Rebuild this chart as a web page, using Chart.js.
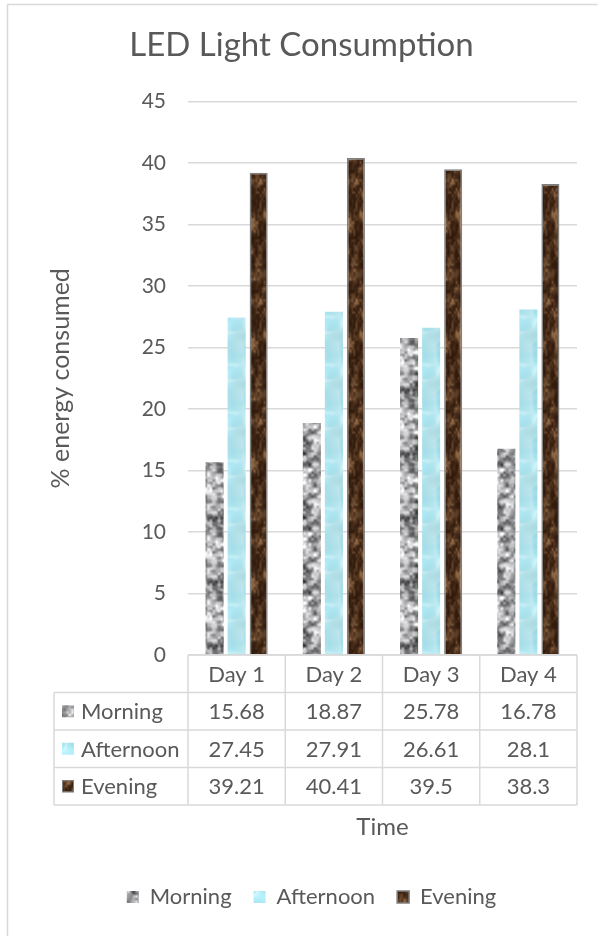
<!DOCTYPE html>
<html>
<head>
<meta charset="utf-8">
<title>LED Light Consumption</title>
<script src="https://cdn.jsdelivr.net/npm/chart.js@4.4.1/dist/chart.umd.min.js"></script>
<style>
  html, body { margin: 0; padding: 0; background: #ffffff; }
  #wrap { width: 600px; height: 936px; }
</style>
</head>
<body>
<div id="wrap"><canvas id="c" width="600" height="936"></canvas></div>
<script>
// ---- data ----
const days = ['Day 1', 'Day 2', 'Day 3', 'Day 4'];
const morning = [15.68, 18.87, 25.78, 16.78];
const afternoon = [27.45, 27.91, 26.61, 28.1];
const evening = [39.21, 40.41, 39.5, 38.3];
const seriesNames = ['Morning', 'Afternoon', 'Evening'];
const yMin = 0, yMax = 45, yStep = 5;

const TEXT = '#595959';
const LINE = '#d9d9d9';
const FONT = 'Lato, "Open Sans", sans-serif';
Chart.defaults.font.family = FONT;
Chart.defaults.color = TEXT;

// ---- texture fills (seamless tiles) ----
function rng(seed) {
  return function () {
    seed |= 0; seed = seed + 0x6D2B79F5 | 0;
    let t = Math.imul(seed ^ seed >>> 15, 1 | seed);
    t = t + Math.imul(t ^ t >>> 7, 61 | t) ^ t;
    return ((t ^ t >>> 14) >>> 0) / 4294967296;
  };
}
function tileNoise(w, h, cx, cy, seed) {
  const r = rng(seed), g = [];
  for (let i = 0; i < cx * cy; i++) g.push(r());
  const G = (i, j) => g[((j % cy + cy) % cy) * cx + ((i % cx + cx) % cx)];
  return (x, y) => {
    const fx = x / w * cx, fy = y / h * cy;
    const x0 = Math.floor(fx), y0 = Math.floor(fy);
    const tx = fx - x0, ty = fy - y0;
    const sx = tx * tx * (3 - 2 * tx), sy = ty * ty * (3 - 2 * ty);
    const a = G(x0, y0), b = G(x0 + 1, y0), c = G(x0, y0 + 1), d = G(x0 + 1, y0 + 1);
    return a + (b - a) * sx + (c - a) * sy + (a - b - c + d) * sx * sy;
  };
}
const clamp = v => Math.max(0, Math.min(255, Math.round(v)));
function makePattern(w, h, fn) {
  const cv = document.createElement('canvas');
  cv.width = w; cv.height = h;
  const cx = cv.getContext('2d');
  const img = cx.createImageData(w, h);
  for (let y = 0; y < h; y++) {
    for (let x = 0; x < w; x++) {
      const [r, g, b] = fn(x, y);
      const k = (y * w + x) * 4;
      img.data[k] = clamp(r); img.data[k + 1] = clamp(g); img.data[k + 2] = clamp(b); img.data[k + 3] = 255;
    }
  }
  cx.putImageData(img, 0, 0);
  return cx.createPattern(cv, 'repeat');
}

// granite: light grey with mottled darker flecks
const gA = tileNoise(64, 64, 12, 12, 11), gB = tileNoise(64, 64, 24, 24, 12), gC = tileNoise(64, 64, 4, 4, 13);
const granite = makePattern(64, 64, (x, y) => {
  const v = 0.5 * gA(x, y) + 0.3 * gB(x, y) + 0.2 * gC(x, y);
  const k = 170 + (v - 0.5) * 320;
  return [k, k, k + 2];
});

// water: pale cyan with soft light and darker patches
const wA = tileNoise(48, 48, 4, 4, 21), wB = tileNoise(48, 48, 8, 8, 22), wC = tileNoise(48, 48, 3, 3, 23);
const water = makePattern(48, 48, (x, y) => {
  const ridge = 1 - Math.abs(2 * wA(x, y) - 1);
  const v = Math.pow(ridge, 4) * 0.4 + (wB(x, y) - 0.5) * 0.25;
  const d = (wC(x, y) - 0.5) * 30;
  const base = [166, 226, 237];
  return base.map(c => c + (255 - c) * v + d);
});

// wood: dark brown grain with lighter blotches
const oA = tileNoise(24, 120, 6, 10, 31), oB = tileNoise(24, 120, 12, 40, 32), oC = tileNoise(24, 120, 3, 4, 33);
const wood = makePattern(24, 120, (x, y) => {
  const v = 0.5 * oA(x, y) + 0.3 * oB(x, y) + 0.2 * oC(x, y);
  const t = Math.max(0, Math.min(1, (v - 0.25) * 1.8));
  const dark = [48, 26, 12], light = [140, 100, 66];
  const s = t * t;
  return dark.map((c, i) => c + (light[i] - c) * s);
});

const fills = [granite, water, wood];

// ---- plugins ----
const frame = {
  id: 'frame',
  afterLayout(chart) {
    // title and legend sit a little right of the plot's centre line
    if (chart.titleBlock) { chart.titleBlock.left += 9; chart.titleBlock.right += 9; }
    if (chart.legend) { chart.legend.left += 19; chart.legend.right += 19; }
  },
  beforeDraw(chart) {
    const { ctx } = chart;
    ctx.save();
    ctx.strokeStyle = LINE;
    ctx.lineWidth = 1.5;
    ctx.beginPath();
    ctx.moveTo(7.5, 936);
    ctx.lineTo(7.5, 4.5);
    ctx.lineTo(597.5, 4.5);
    ctx.stroke();
    ctx.restore();
  }
};

const dataTable = {
  id: 'dataTable',
  afterDraw(chart) {
    const { ctx, chartArea: a, scales: { x } } = chart;
    const rowH = 37.5, top = a.bottom, labelLeft = 54;
    const catW = (a.right - a.left) / days.length;
    const rows = [morning, afternoon, evening];
    ctx.save();
    ctx.strokeStyle = LINE;
    ctx.lineWidth = 1.5;
    ctx.beginPath();
    // horizontal rules
    ctx.moveTo(a.left, top); ctx.lineTo(a.right, top);
    for (let k = 1; k <= 4; k++) {
      ctx.moveTo(labelLeft, top + rowH * k); ctx.lineTo(a.right, top + rowH * k);
    }
    // vertical rules
    for (let i = 0; i <= days.length; i++) {
      const px = a.left + catW * i;
      ctx.moveTo(px, top); ctx.lineTo(px, top + rowH * 4);
    }
    ctx.moveTo(labelLeft, top + rowH); ctx.lineTo(labelLeft, top + rowH * 4);
    ctx.stroke();

    ctx.fillStyle = TEXT;
    ctx.font = '22px ' + FONT;
    ctx.textAlign = 'center';
    ctx.textBaseline = 'middle';
    days.forEach((d, i) => ctx.fillText(d, x.getPixelForValue(i), top + rowH / 2 + 1));
    rows.forEach((vals, r) => {
      const cy = top + rowH * (r + 1.5) + 1;
      vals.forEach((v, i) => {
        ctx.fillStyle = TEXT;
        ctx.fillText(String(v), x.getPixelForValue(i), cy);
      });
      // series key
      const ds = chart.data.datasets[r];
      ctx.fillStyle = ds.backgroundColor;
      ctx.fillRect(62, cy - 7, 12, 12);
      if (ds.borderWidth) {
        ctx.strokeStyle = ds.borderColor;
        ctx.lineWidth = 1;
        ctx.strokeRect(62.5, cy - 6.5, 11, 11);
      }
      ctx.fillStyle = TEXT;
      ctx.textAlign = 'left';
      ctx.fillText(seriesNames[r], 81, cy);
      ctx.textAlign = 'center';
    });
    ctx.restore();
  }
};

// ---- chart ----
new Chart(document.getElementById('c'), {
  type: 'bar',
  data: {
    labels: days,
    datasets: [
      { label: seriesNames[0], data: morning, backgroundColor: fills[0], borderWidth: 0 },
      { label: seriesNames[1], data: afternoon, backgroundColor: fills[1], borderWidth: 0 },
      { label: seriesNames[2], data: evening, backgroundColor: fills[2], borderColor: '#808080', borderWidth: 1.5 }
    ]
  },
  options: {
    responsive: false,
    animation: false,
    events: [],
    layout: { padding: { left: 8, right: 23, top: 0, bottom: 18 } },
    datasets: { bar: { categoryPercentage: 0.68, barPercentage: 0.82 } },
    plugins: {
      title: {
        display: true,
        text: 'LED Light Consumption',
        color: TEXT,
        font: { size: 33, weight: 'normal' },
        padding: { top: 26, bottom: 36 }
      },
      legend: {
        position: 'bottom',
        labels: {
          boxWidth: 12, boxHeight: 12, padding: 22,
          color: TEXT, font: { size: 22 }
        }
      },
      tooltip: { enabled: false }
    },
    scales: {
      x: {
        afterFit(s) { s.height = 209; },
        grid: { display: false },
        border: { display: false },
        ticks: { display: false },
        title: { display: true, text: 'Time', color: TEXT, font: { size: 24 }, padding: { top: 0, bottom: 22 } }
      },
      y: {
        min: yMin, max: yMax,
        afterFit(s) { s.width = 180; },
        border: { display: false },
        grid: { color: LINE, lineWidth: 1.5, drawTicks: false },
        ticks: { stepSize: yStep, padding: 22, color: TEXT, font: { size: 21 } },
        title: { display: true, text: '% energy consumed', color: TEXT, font: { size: 25 }, padding: { top: 38, bottom: 0 } }
      }
    }
  },
  plugins: [frame, dataTable]
});
</script>
</body>
</html>
